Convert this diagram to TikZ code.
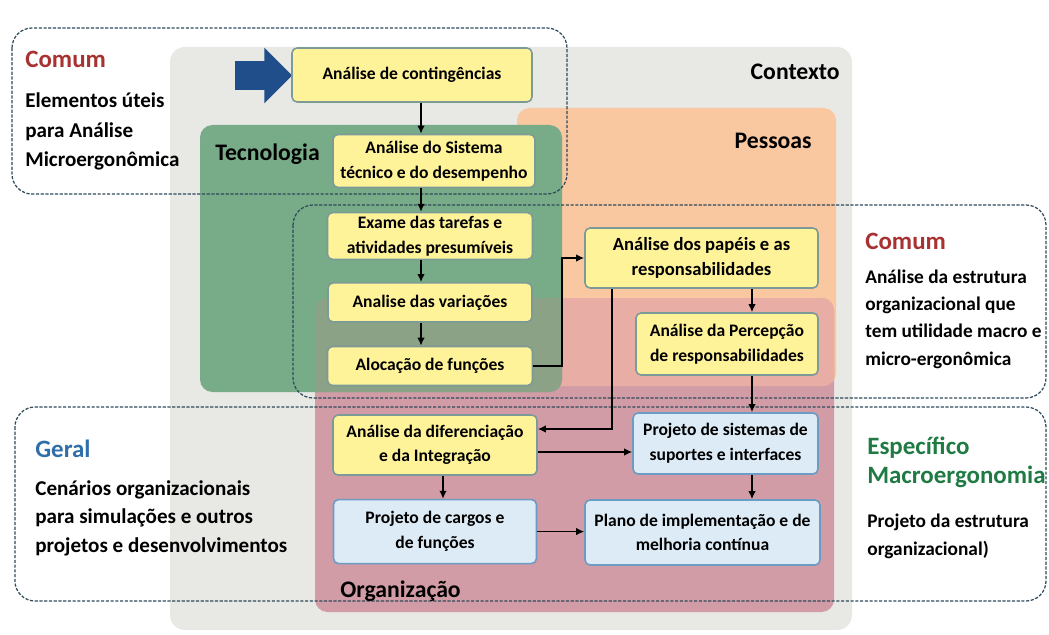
\documentclass[tikz,border=0pt]{standalone}
\usepackage{fontspec}
\setmainfont{Carlito}
\usetikzlibrary{positioning,arrows.meta,shapes.arrows}
\usepackage{xcolor}

\definecolor{ctxgray}{HTML}{E8E8E5}
\definecolor{pessoasfill}{HTML}{F9C7A0}
\definecolor{techfill}{HTML}{78AB88}
\definecolor{orgfill}{HTML}{D19CA6}
\definecolor{orgpessoas}{HTML}{E8ADA5}
\definecolor{orgtech}{HTML}{8CA287}
\definecolor{boxyellow}{HTML}{FFF39A}
\definecolor{boxline}{HTML}{7C9B98}
\definecolor{boxblue}{HTML}{DDEBF7}
\definecolor{blueline}{HTML}{6C9BC3}
\definecolor{arrowblue}{HTML}{1F4E8B}
\definecolor{dashcol}{HTML}{2E4A5A}
\definecolor{comumred}{HTML}{A83232}
\definecolor{geralblue}{HTML}{2F6EA8}
\definecolor{macrogreen}{HTML}{1F7A44}

\begin{document}
\begin{tikzpicture}[
  x=0.02cm, y=-0.02cm,
  box/.style={draw=boxline, fill=boxyellow, line width=0.9pt, rounded corners=0.1cm, align=center, inner sep=2pt, font=\fontsize{10}{14}\selectfont\bfseries},
  bluebox/.style={box, draw=blueline, fill=boxblue},
  arrow/.style={-{Latex[length=1.6mm,width=1.5mm]}, line width=0.9pt},
  dashbox/.style={draw=dashcol, dash pattern=on 1.8pt off 0.9pt, line width=0.7pt, rounded corners=0.4cm},
  region/.style={font=\fontsize{13.5}{16}\selectfont\bfseries, inner sep=0},
  heading/.style={font=\fontsize{14.2}{16}\selectfont\bfseries, anchor=base west, inner sep=0, align=left},
  note/.style={font=\fontsize{12}{17}\selectfont\bfseries, align=left, anchor=base west, inner sep=0},
  smallnote/.style={note, font=\fontsize{11}{15.5}\selectfont\bfseries}
]
\useasboundingbox (0,0) rectangle (1049,635);

% areas
\fill[ctxgray, rounded corners=0.3cm] (170,47) rectangle (852,630);
\fill[pessoasfill, rounded corners=0.25cm] (517,108) rectangle (836,386);
\fill[orgfill, rounded corners=0.25cm] (315,298) rectangle (834,612);
\begin{scope}
  \clip[rounded corners=0.25cm] (517,108) rectangle (836,386);
  \fill[orgpessoas, rounded corners=0.25cm] (315,298) rectangle (834,612);
\end{scope}
\fill[techfill, rounded corners=0.25cm] (200,125) rectangle (562,392);
\begin{scope}
  \clip[rounded corners=0.25cm] (200,125) rectangle (562,392);
  \fill[orgtech, rounded corners=0.25cm] (315,298) rectangle (834,612);
\end{scope}

% dashed groups
\draw[dashbox] (12,28) rectangle (567,194);
\draw[dashbox] (293,205) rectangle (1046,398);
\draw[dashbox] (15,407) rectangle (1046,601);

% area labels
\node[region, anchor=base east] (ctx) at (840,80) {Contexto};
\node[region, anchor=base east] (pes) at (812,149) {Pessoas};
\node[region, anchor=base west] (tec) at (215,161) {Tecnologia};
\node[region, anchor=base west] (org) at (340,597) {Organização};

% side notes (base = last line)
\node[heading, text=comumred] (comumA) at (25,68) {Comum};
\node[note] (comumAtxt) at (25,167) {Elementos úteis\\para Análise\\Microergonômica};
\node[heading, text=comumred] (comumB) at (865,250) {Comum};
\node[smallnote] (comumBtxt) at (865,365) {Análise da estrutura\\organizacional que\\tem utilidade macro e\\micro-ergonômica};
\node[heading, text=geralblue] (geral) at (35,457) {Geral};
\node[note, font=\fontsize{12}{16.2}\selectfont\bfseries] (geraltxt) at (35,552) {Cenários organizacionais\\para simulações e outros\\projetos e desenvolvimentos};
\node[heading, text=macrogreen] (espec) at (867,483) {Específico\\Macroergonomia};
\node[smallnote] (espectxt) at (867,555) {Projeto da estrutura\\organizacional)};

\node[single arrow, fill=arrowblue, inner sep=0, text height=0.28cm, text depth=0.28cm,
  single arrow head extend=0.27cm, minimum height=1.14cm] (bigarrow) at (256.5,75.5) {};

% steps
\node[box, minimum width=4.8cm, minimum height=1.08cm] (contingencias) at (412,75) {Análise de contingências};
\node[box, minimum width=4.04cm, minimum height=1.06cm] (sistema) at (434,161) {Análise do Sistema\\técnico e do desempenho};
\node[box, minimum width=4.1cm, minimum height=0.92cm] (tarefas) at (430,236) {Exame das tarefas e\\atividades presumíveis};
\node[box, minimum width=4.08cm, minimum height=0.78cm, below=0.44cm of tarefas] (variacoes) {Analise das variações};
\node[box, minimum width=4.1cm, minimum height=0.78cm, below=0.46cm of variacoes] (alocacao) {Alocação de funções};
\node[box, minimum width=4.66cm, minimum height=1.2cm, font=\fontsize{10.6}{14}\selectfont\bfseries] (papeis) at (701.5,258) {Análise dos papéis e as\\responsabilidades};
\node[box, minimum width=3.64cm, minimum height=1.24cm] (percepcao) at (727,344) {Análise da Percepção\\de responsabilidades};
\node[box, minimum width=4.08cm, minimum height=1.2cm] (diferenciacao) at (435,445) {Análise da diferenciação\\e da Integração};
\node[bluebox, minimum width=3.7cm, minimum height=1.22cm] (suportes) at (725.5,443.5) {Projeto de sistemas de\\suportes e interfaces};
\node[bluebox, minimum width=4.06cm, minimum height=1.28cm, below=0.46cm of diferenciacao] (cargos) {Projeto de cargos e\\de funções};
\node[bluebox, minimum width=4.7cm, minimum height=1.3cm] (implementacao) at (702.5,532.5) {Plano de implementação e de\\melhoria contínua};

% flow
\coordinate (col) at (421,0);
\coordinate (bend) at (562,0);
\coordinate (drop) at (612,0);
\coordinate (col2) at (752,0);
\coordinate (col3) at (443,0);
\coordinate (turn) at (0,429);
\coordinate (side) at (0,452);

\draw[arrow] (contingencias.south -| col) -- (sistema.north -| col);
\draw[arrow] (sistema.south -| col) -- (tarefas.north -| col);
\draw[arrow] (tarefas.south -| col) -- (variacoes.north -| col);
\draw[arrow] (variacoes.south -| col) -- (alocacao.north -| col);
\draw[arrow] (alocacao.east) -- (alocacao.east -| bend) |- (papeis.west);
\draw[arrow] (papeis.south -| col2) -- (percepcao.north -| col2);
\draw[arrow] (papeis.south -| drop) |- (diferenciacao.east |- turn);
\draw[arrow] (percepcao.south -| col2) -- (suportes.north -| col2);
\draw[arrow] (diferenciacao.east |- side) -- (suportes.west |- side);
\draw[arrow] (diferenciacao.south -| col3) -- (cargos.north -| col3);
\draw[arrow] (suportes.south -| col2) -- (implementacao.north -| col2);
\draw[arrow] (cargos.east) -- (cargos.east -| implementacao.west);
\end{tikzpicture}
\end{document}
